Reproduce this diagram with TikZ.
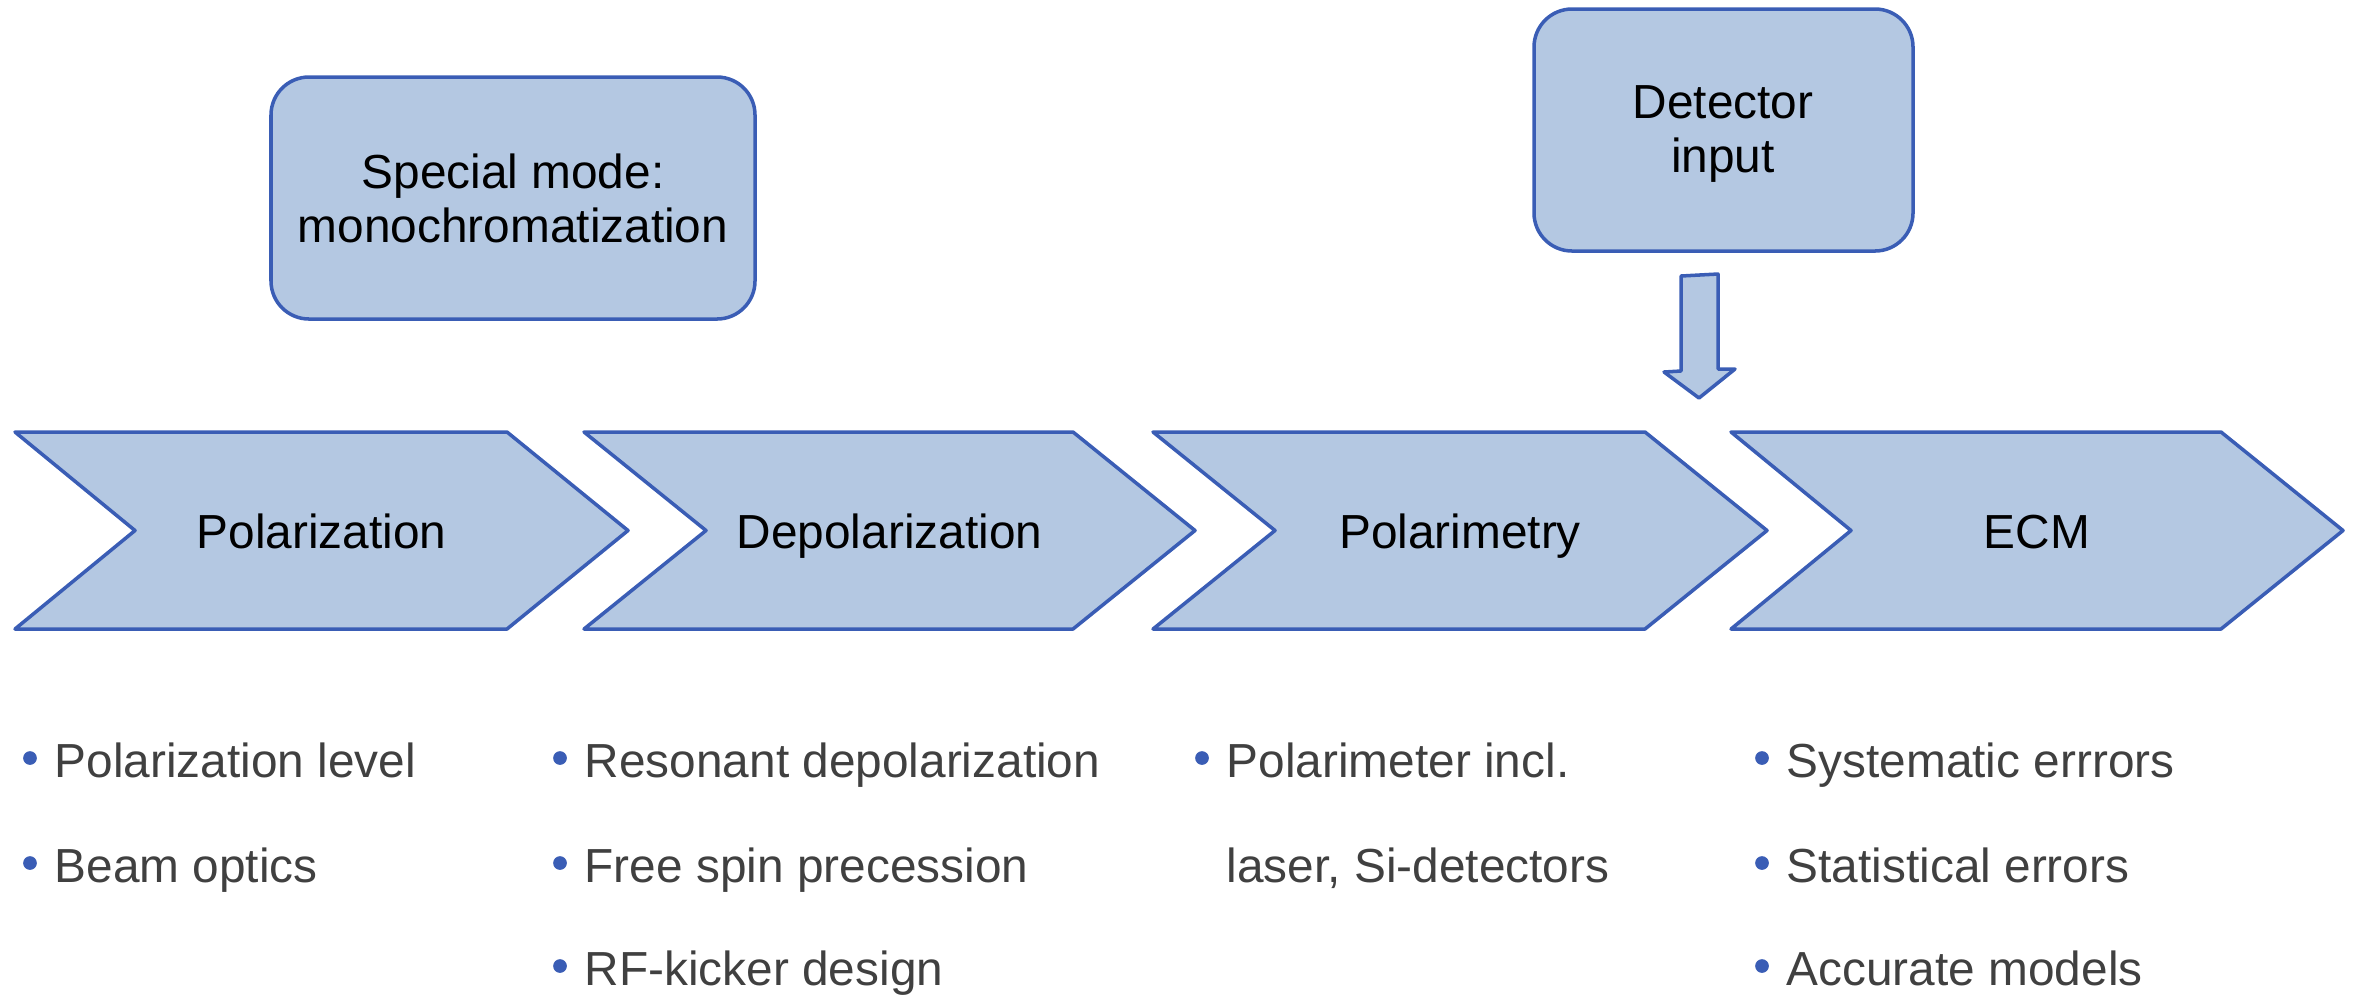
\documentclass[tikz,border=0pt]{standalone}
\usepackage{fontspec}
\setmainfont{Liberation Sans}
\definecolor{boxfill}{HTML}{B4C8E2}
\definecolor{boxline}{HTML}{3A5DB5}
\definecolor{itemtext}{HTML}{404040}
\begin{document}
\begin{tikzpicture}[x=0.1mm,y=-0.1mm,
  shapeline/.style={draw=boxline,fill=boxfill,line width=1pt,line join=round},
  roundbox/.style={shapeline,rounded corners=3.8mm},
  label/.style={font=\fontsize{13.6}{15.4}\selectfont,text=black,inner sep=0pt,align=center},
  itemlabel/.style={font=\fontsize{13.6}{15.4}\selectfont,text=itemtext,inner sep=0pt,anchor=base west},
  dot/.style={fill=boxline,draw=none,circle,minimum size=3.9pt,inner sep=0pt}]
\useasboundingbox (0,0) rectangle (2360,994);

% top boxes
\draw[roundbox] (271,77) rectangle (755,319);
\node[label] (special) at (513,198) {Special mode:\\monochromatization};
\draw[roundbox] (1534,9) rectangle (1913,251);
\node[label] (detector) at (1723,134) {Detector\\input};

% block arrow from the detector box down to the polarimetry step
\draw[shapeline] (1681,276) -- (1718,274) -- (1718,369) -- (1735,369)
  -- (1699,398) -- (1664,372) -- (1681,371) -- cycle;

% process chevrons: left edge, notch, shoulder, tip
\foreach \l/\n/\s/\t/\name/\txt in {
    15/135/507/628/polar/Polarization,
    584/706/1073/1195/depol/Depolarization,
    1153/1275/1645/1767/polmet/Polarimetry,
    1731/1851/2221/2343/ecm/ECM} {
  \draw[shapeline] (\l,432) -- (\s,432) -- (\t,530.5) -- (\s,629)
    -- (\l,629) -- (\n,530.5) -- cycle;
  \node[label,anchor=base] (\name) at ({(\l+\t)/2},548) {\txt};
}

% bullet lists under each step
\foreach \x/\y/\name/\txt in {
    30/777/pa/Polarization level,
    30/882/pb/Beam optics,
    560/777/da/Resonant depolarization,
    560/882/db/Free spin precession,
    560/985/dc/RF-kicker design,
    1202/777/ma/Polarimeter incl.,
    1762/777/ea/Systematic errrors,
    1762/882/eb/Statistical errors,
    1762/985/ec/Accurate models} {
  \node[dot] (\name dot) at (\x,{\y-19}) {};
  \node[itemlabel] (\name) at ({\x+24},\y) {\txt};
}
\node[itemlabel] (mb) at (1226,882) {laser, Si-detectors};
\end{tikzpicture}
\end{document}
